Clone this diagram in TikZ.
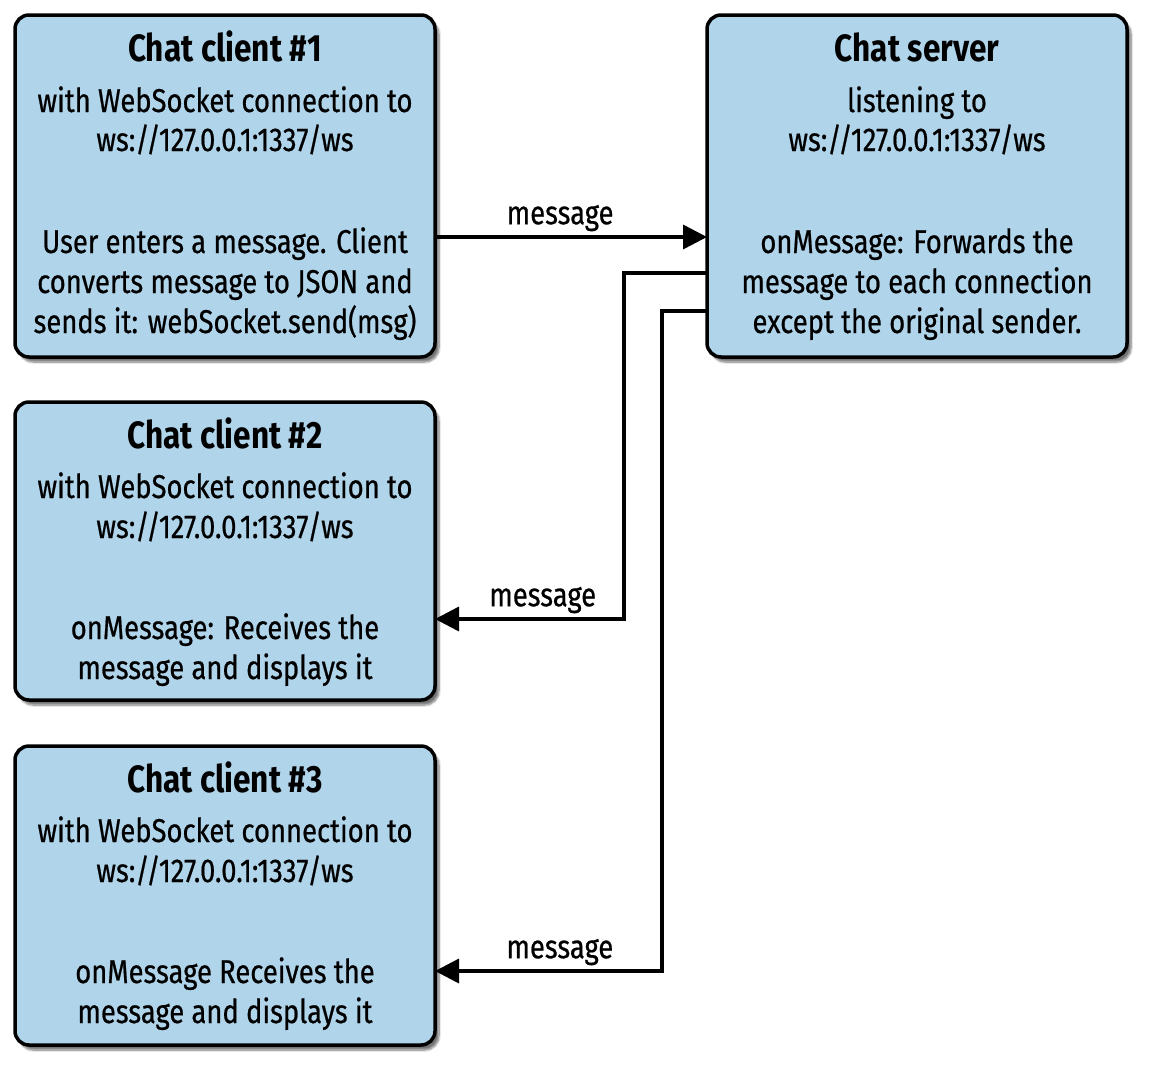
\documentclass[tikz,border=0pt]{standalone}
\usepackage{fontspec}
\setmainfont[FakeStretch=0.83]{Fira Sans}
\newfontfamily\bodyfont[FakeStretch=0.83, FakeBold=0.6]{Fira Sans}
\usetikzlibrary{shadows.blur,arrows.meta}
\definecolor{boxblue}{HTML}{B0D4EA}
\tikzset{
  box/.style={draw=black, line width=3.5pt, rounded corners=14pt, fill=boxblue,
    blur shadow={shadow xshift=4pt, shadow yshift=-5pt, shadow blur steps=8, shadow blur extra rounding=2pt, shadow opacity=55}},
  ttl/.style={font=\fontsize{38}{40}\selectfont\bfseries, anchor=base, inner sep=0pt},
  txt/.style={font=\fontsize{33}{40}\bodyfont, anchor=base, inner sep=0pt},
  lbl/.style={font=\fontsize{33}{36}\bodyfont, anchor=base, inner sep=0pt},
  conn/.style={line width=3.5pt, draw=black, -{Triangle[length=24pt,width=24pt,fill=black]}},
}
\begin{document}
\begin{tikzpicture}[x=1pt,y=-1pt]
\useasboundingbox (0,0) rectangle (1155,1074);
% boxes
\draw[box] (15,15) rectangle (435,357);
\draw[box] (707,15) rectangle (1127,357);
\draw[box] (15,402) rectangle (435,700);
\draw[box] (15,746) rectangle (435,1045);
\coordinate (c1e) at (435,237);
\coordinate (se1) at (707,237);
\coordinate (se2) at (707,273);
\coordinate (se3) at (707,311);
\coordinate (c2e) at (435,619);
\coordinate (c3e) at (435,971);
% client 1 text
\node[ttl] (t1) at (225,61) {Chat client \#1};
\node[txt] (t1a) at (225,112) {with WebSocket connection to};
\node[txt] (t1b) at (225,151) {ws://127.0.0.1:1337/ws};
\node[txt] (t1c) at (225,253) {User enters a message. Client};
\node[txt] (t1d) at (225,293) {converts message to JSON and};
\node[txt] (t1e) at (225,333) {sends it: webSocket.send(msg)};
% server text
\node[ttl] (ts) at (917,61) {Chat server};
\node[txt] (tsa) at (917,112) {listening to};
\node[txt] (tsb) at (917,151) {ws://127.0.0.1:1337/ws};
\node[txt] (tsc) at (917,253) {onMessage: Forwards the};
\node[txt] (tsd) at (917,293) {message to each connection};
\node[txt] (tse) at (917,333) {except the original sender.};
% client 2 text
\node[ttl] (t2) at (225,448) {Chat client \#2};
\node[txt] (t2a) at (225,498) {with WebSocket connection to};
\node[txt] (t2b) at (225,538) {ws://127.0.0.1:1337/ws};
\node[txt] (t2c) at (225,639) {onMessage: Receives the};
\node[txt] (t2d) at (225,679) {message and displays it};
% client 3 text
\node[ttl] (t3) at (225,792) {Chat client \#3};
\node[txt] (t3a) at (225,842) {with WebSocket connection to};
\node[txt] (t3b) at (225,882) {ws://127.0.0.1:1337/ws};
\node[txt] (t3c) at (225,983) {onMessage Receives the};
\node[txt] (t3d) at (225,1023) {message and displays it};
% connectors
\draw[conn] (c1e) -- (se1) node[lbl, pos=0.46, above=4pt] (m1) {message};
\draw[conn] (se2) -- (624,273) -- (624,619) -- (c2e) node[lbl, pos=0.43, above=4pt] (m2) {message};
\draw[conn] (se3) -- (662,311) -- (662,971) -- (c3e) node[lbl, pos=0.45, above=4pt] (m3) {message};
\end{tikzpicture}
\end{document}
